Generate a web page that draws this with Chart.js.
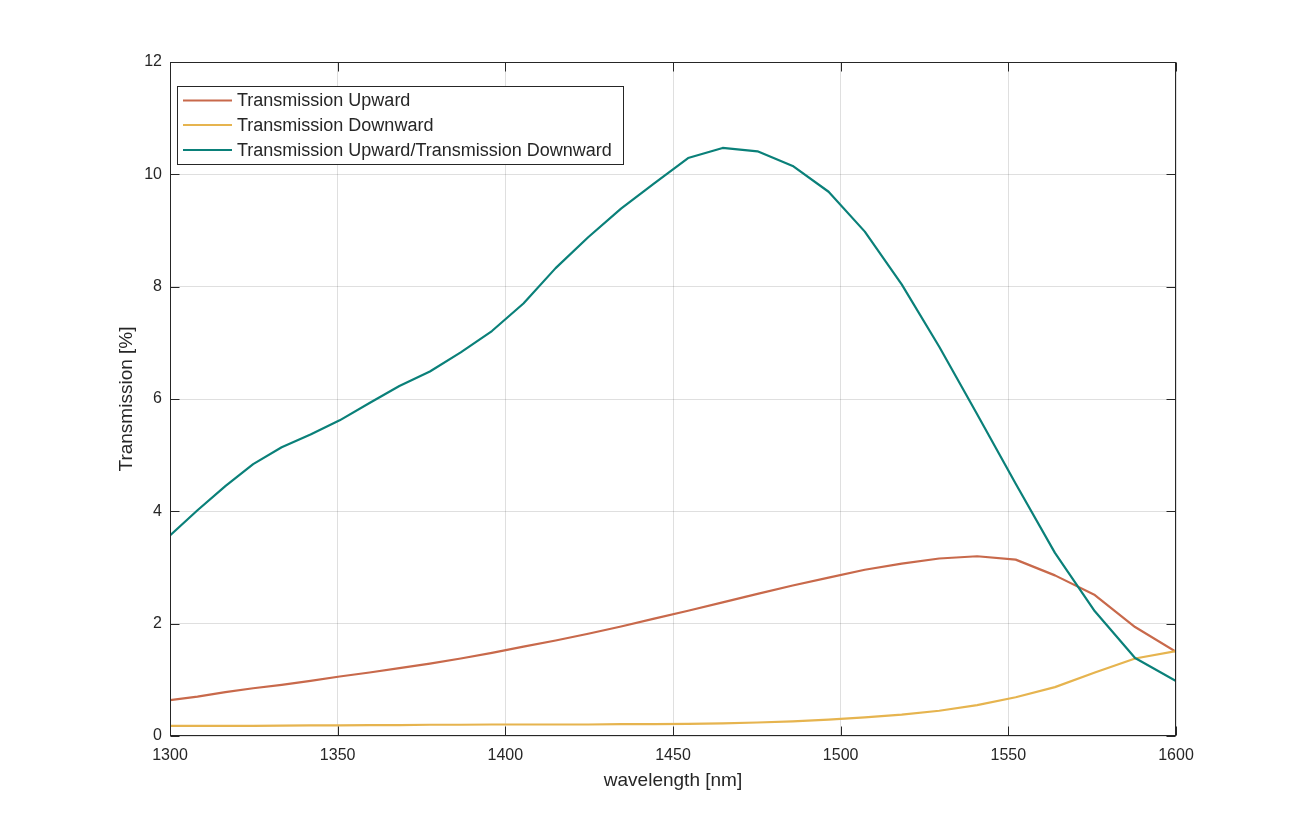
<!DOCTYPE html>
<html>
<head>
<meta charset="utf-8">
<script src="https://cdn.jsdelivr.net/npm/chart.js@4"></script>
<style>
  html, body { margin: 0; padding: 0; background: #fff; }
  #wrap { width: 1301px; height: 828px; }
</style>
</head>
<body>
<div id="wrap"><canvas id="c" width="1301" height="828"></canvas></div>
<script>
// ---- data ----
const wavelengths = [1300, 1308.2, 1316.5, 1324.8, 1333.3, 1341.9, 1350.6, 1359.5, 1368.4, 1377.5,
  1386.7, 1396.0, 1405.4, 1415.0, 1424.7, 1434.5, 1444.4, 1454.5, 1464.8, 1475.2,
  1485.7, 1496.4, 1507.2, 1518.2, 1529.4, 1540.7, 1552.2, 1563.9, 1575.8, 1587.8, 1600];
const transUp = [0.64, 0.70, 0.78, 0.85, 0.91, 0.98, 1.06, 1.13, 1.21, 1.29,
  1.38, 1.48, 1.59, 1.70, 1.82, 1.95, 2.09, 2.23, 2.38, 2.53,
  2.68, 2.82, 2.96, 3.07, 3.16, 3.20, 3.14, 2.86, 2.51, 1.94, 1.50];
const transDown = [0.18, 0.18, 0.18, 0.18, 0.185, 0.19, 0.19, 0.195, 0.195, 0.20,
  0.20, 0.205, 0.205, 0.205, 0.205, 0.21, 0.21, 0.215, 0.225, 0.24,
  0.26, 0.29, 0.33, 0.38, 0.45, 0.55, 0.69, 0.87, 1.13, 1.38, 1.51];
const ratioUpDown = [3.57, 4.02, 4.45, 4.84, 5.14, 5.37, 5.62, 5.93, 6.23, 6.49,
  6.83, 7.21, 7.70, 8.33, 8.88, 9.39, 9.84, 10.29, 10.47, 10.41,
  10.15, 9.69, 8.98, 8.04, 6.93, 5.73, 4.49, 3.26, 2.22, 1.39, 0.98];
const seriesNames = ['Transmission Upward', 'Transmission Downward', 'Transmission Upward/Transmission Downward'];
const xTicks = [1300, 1350, 1400, 1450, 1500, 1550, 1600];
const yTicks = [0, 2, 4, 6, 8, 10, 12];
const xTitle = 'wavelength [nm]';
const yTitle = 'Transmission [%]';

// ---- styles ----
const colors = ['#C8694B', '#E6B44F', '#0A8079'];
const FONT = '"Liberation Sans", Arial, Helvetica, sans-serif';
const TEXT = '#262626';

function pts(ys) { return wavelengths.map((w, i) => ({ x: w, y: ys[i] })); }

const frame = {
  id: 'frame',
  afterDraw(chart) {
    const { ctx, chartArea: a, scales } = chart;
    const xs = scales.x, ys = scales.y;
    ctx.save();
    ctx.strokeStyle = TEXT;
    ctx.lineWidth = 1;
    const L = Math.round(a.left) + 0.5, R = Math.round(a.right) - 0.5;
    const T = Math.round(a.top) + 0.5, B = Math.round(a.bottom) - 0.5;
    ctx.strokeRect(L, T, R - L, B - T);
    const tl = 9;
    ctx.beginPath();
    xTicks.forEach(v => {
      const px = Math.round(xs.getPixelForValue(v)) + 0.5;
      ctx.moveTo(px, B); ctx.lineTo(px, B - tl);
      ctx.moveTo(px, T); ctx.lineTo(px, T + tl);
    });
    yTicks.forEach(v => {
      const py = Math.round(ys.getPixelForValue(v)) + 0.5;
      ctx.moveTo(L, py); ctx.lineTo(L + tl, py);
      ctx.moveTo(R, py); ctx.lineTo(R - tl, py);
    });
    ctx.stroke();

    // axis titles
    ctx.fillStyle = TEXT;
    ctx.font = '19px ' + FONT;
    ctx.textAlign = 'center';
    ctx.textBaseline = 'middle';
    ctx.fillText(xTitle, (a.left + a.right) / 2, 781);
    ctx.save();
    ctx.translate(127, (a.top + a.bottom) / 2);
    ctx.rotate(-Math.PI / 2);
    ctx.fillText(yTitle, 0, 0);
    ctx.restore();

    // legend
    const lx = 177.5, ly = 86.5, lw = 446, lh = 78;
    ctx.fillStyle = '#fff';
    ctx.fillRect(lx, ly, lw, lh);
    ctx.strokeStyle = TEXT;
    ctx.strokeRect(lx, ly, lw, lh);
    ctx.font = '18px ' + FONT;
    ctx.textAlign = 'left';
    ctx.textBaseline = 'middle';
    const rows = [100.5, 125, 150];
    seriesNames.forEach((n, i) => {
      ctx.strokeStyle = colors[i];
      ctx.lineWidth = 2;
      ctx.beginPath();
      ctx.moveTo(183, rows[i]); ctx.lineTo(232, rows[i]);
      ctx.stroke();
      ctx.fillStyle = TEXT;
      ctx.fillText(n, 237, rows[i] + 1);
    });
    ctx.restore();
  }
};

new Chart(document.getElementById('c'), {
  type: 'line',
  data: {
    datasets: [
      { label: seriesNames[0], data: pts(transUp), borderColor: colors[0], order: 3 },
      { label: seriesNames[1], data: pts(transDown), borderColor: colors[1], order: 2 },
      { label: seriesNames[2], data: pts(ratioUpDown), borderColor: colors[2], order: 1 }
    ]
  },
  options: {
    responsive: false,
    animation: false,
    devicePixelRatio: 1,
    elements: {
      line: { borderWidth: 2.2, tension: 0, fill: false, borderJoinStyle: 'round' },
      point: { radius: 0, hoverRadius: 0 }
    },
    layout: { padding: { left: 0, top: 62, right: 125, bottom: 0 } },
    plugins: { legend: { display: false }, tooltip: { enabled: false }, title: { display: false } },
    scales: {
      x: {
        type: 'linear', min: 1300, max: 1600,
        afterBuildTicks: s => { s.ticks = xTicks.map(v => ({ value: v })); },
        afterFit: s => { s.height = 92; },
        grid: { color: 'rgba(38,38,38,0.15)', drawTicks: false, lineWidth: 1 },
        border: { display: false },
        ticks: { color: TEXT, font: { size: 16, family: FONT }, padding: 10, maxRotation: 0,
                 callback: v => String(v) }
      },
      y: {
        type: 'linear', min: 0, max: 12,
        afterBuildTicks: s => { s.ticks = yTicks.map(v => ({ value: v })); },
        afterFit: s => { s.width = 170; },
        grid: { color: 'rgba(38,38,38,0.15)', drawTicks: false, lineWidth: 1 },
        border: { display: false },
        ticks: { color: TEXT, font: { size: 16, family: FONT }, padding: 8,
                 callback: v => String(v) }
      }
    }
  },
  plugins: [frame]
});
</script>
</body>
</html>
